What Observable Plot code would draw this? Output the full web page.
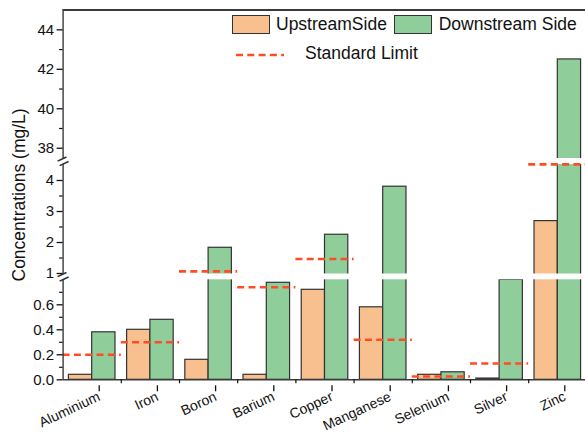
<!DOCTYPE html>
<html><head><meta charset="utf-8">
<script src="https://cdn.jsdelivr.net/npm/d3@7"></script>
<script src="https://cdn.jsdelivr.net/npm/@observablehq/plot@0.6"></script>
<style>
body{margin:0;background:#fff;font-family:"Liberation Sans",Arial,sans-serif;}
#wrap{position:relative;width:585px;height:436px;overflow:hidden;}
.lg{position:absolute;font-size:17.5px;line-height:17.5px;color:#111;white-space:nowrap;}
.sw{position:absolute;box-sizing:border-box;border:1.2px solid #333;}
</style></head><body><div id="wrap"></div>
<script>
const categories = ["Aluminium","Iron","Boron","Barium","Copper","Manganese","Selenium","Silver","Zinc"];
const upstream = [0.04, 0.40, 0.16, 0.04, 0.72, 0.58, 0.04, 0.01, 2.69];
const downstream = [0.38, 0.48, 1.83, 0.776, 2.25, 3.8, 0.06, 0.8, 42.5];
const standardLimit = [0.2, 0.3, 1.07, 0.74, 1.47, 0.32, 0.026, 0.13, 5];
const seriesNames = ["UpstreamSide", "Downstream Side", "Standard Limit"];
const yMajorTicks = [0, 0.2, 0.4, 0.6, 1, 2, 3, 4, 38, 40, 42, 44];
const yMinorTicks = [0.1, 0.3, 0.5, 0.7, 1.5, 2.5, 3.5, 39, 41, 43];
const yBreaks = [[0.8, 0.984], [4.516, 37.48]];
const ySegments = [[0, 0.8], [0.984, 4.516], [37.48, 45]];

const colors = {up: "#f9c08f", down: "#8fce9b", limit: "#ff4c24", edge: "#333"};
const barW = 0.4;

const upData = categories.map((c, i) => ({i, value: upstream[i]}));
const downData = categories.map((c, i) => ({i, value: downstream[i]}));
const limitData = categories.map((c, i) => ({i, value: standardLimit[i]}));
const breakMid = yBreaks.map(b => ({y: (b[0] + b[1]) / 2}));

const chart = Plot.plot({
  width: 585, height: 436,
  marginLeft: 62.6, marginRight: 0, marginTop: 9.6, marginBottom: 56.7,
  x: {type: "linear", domain: [-0.5, 8.5], range: [62.6, 586.4]},
  y: {type: "linear", domain: [0, 0.8, 0.984, 4.516, 37.48, 45], range: [379.3, 279.3, 273.5, 164, 158, 9.6]},
  style: {fontFamily: "Liberation Sans, Arial, sans-serif", fontSize: "15px", color: "#111", background: "white"},
  marks: [
    Plot.rect(upData, {x1: d => d.i - barW, x2: d => d.i, y1: 0, y2: "value", fill: colors.up, stroke: colors.edge, strokeWidth: 1.2}),
    Plot.rect(downData, {x1: d => d.i, x2: d => d.i + barW, y1: 0, y2: "value", fill: colors.down, stroke: colors.edge, strokeWidth: 1.2}),
    Plot.rect(yBreaks, {y1: d => d[0], y2: d => d[1], fill: "white"}),
    Plot.ruleY(limitData, {x1: d => d.i - 0.5, x2: d => d.i + 0.5, y: "value", stroke: colors.limit, strokeWidth: 2.6, strokeDasharray: "7,4.3"}),
    Plot.ruleY([45], {stroke: "#3a3a3a", strokeWidth: 2}),
    Plot.ruleY([0], {stroke: "#3a3a3a", strokeWidth: 1.4}),
    Plot.ruleX(ySegments, {x: -0.5, y1: d => d[0], y2: d => d[1], stroke: "#3a3a3a", strokeWidth: 1.4}),
    Plot.axisY(yMajorTicks, {tickSize: 6, tickPadding: 3, tickFormat: d => d < 1 ? d.toFixed(1) : String(d), label: null, fontSize: 15, strokeWidth: 1.3}),
    Plot.axisY(yMinorTicks, {tickSize: 3.5, tickFormat: () => "", label: null, strokeWidth: 1.2}),
    Plot.axisX(d3.range(9), {tickSize: 6, tickPadding: 4, tickFormat: i => categories[i], tickRotate: -25, label: null, fontSize: 14, strokeWidth: 1.3, dx: 7, dy: 6}),
    Plot.axisX(d3.range(8).map(i => i + 0.5), {tickSize: 4, tickFormat: () => "", label: null, strokeWidth: 1.2}),
    Plot.text(breakMid, {x: -0.5, y: "y", text: () => "=", rotate: -25, fontSize: 20, fill: "#333"}),
    Plot.text(["Concentrations (mg/L)"], {frameAnchor: "left", dx: -44, rotate: -90, textAnchor: "middle", fontSize: 17.5, fill: "#111"})
  ]
});
const wrap = document.getElementById("wrap");
wrap.appendChild(chart);

function add(html){ wrap.insertAdjacentHTML("beforeend", html); }
add(`<div class="sw" style="left:231.5px;top:15px;width:38.5px;height:19px;background:${colors.up}"></div>`);
add(`<div class="lg" style="left:276px;top:15.7px">${seriesNames[0]}</div>`);
add(`<div class="sw" style="left:393.5px;top:15px;width:38.5px;height:19px;background:${colors.down}"></div>`);
add(`<div class="lg" style="left:438.7px;top:15.7px">${seriesNames[1]}</div>`);
add(`<svg style="position:absolute;left:236px;top:52px" width="50" height="6"><line x1="0" x2="48" y1="3" y2="3" stroke="${colors.limit}" stroke-width="2.6" stroke-dasharray="7,4.3"/></svg>`);
add(`<div class="lg" style="left:305px;top:44.9px">${seriesNames[2]}</div>`);
</script></body></html>
